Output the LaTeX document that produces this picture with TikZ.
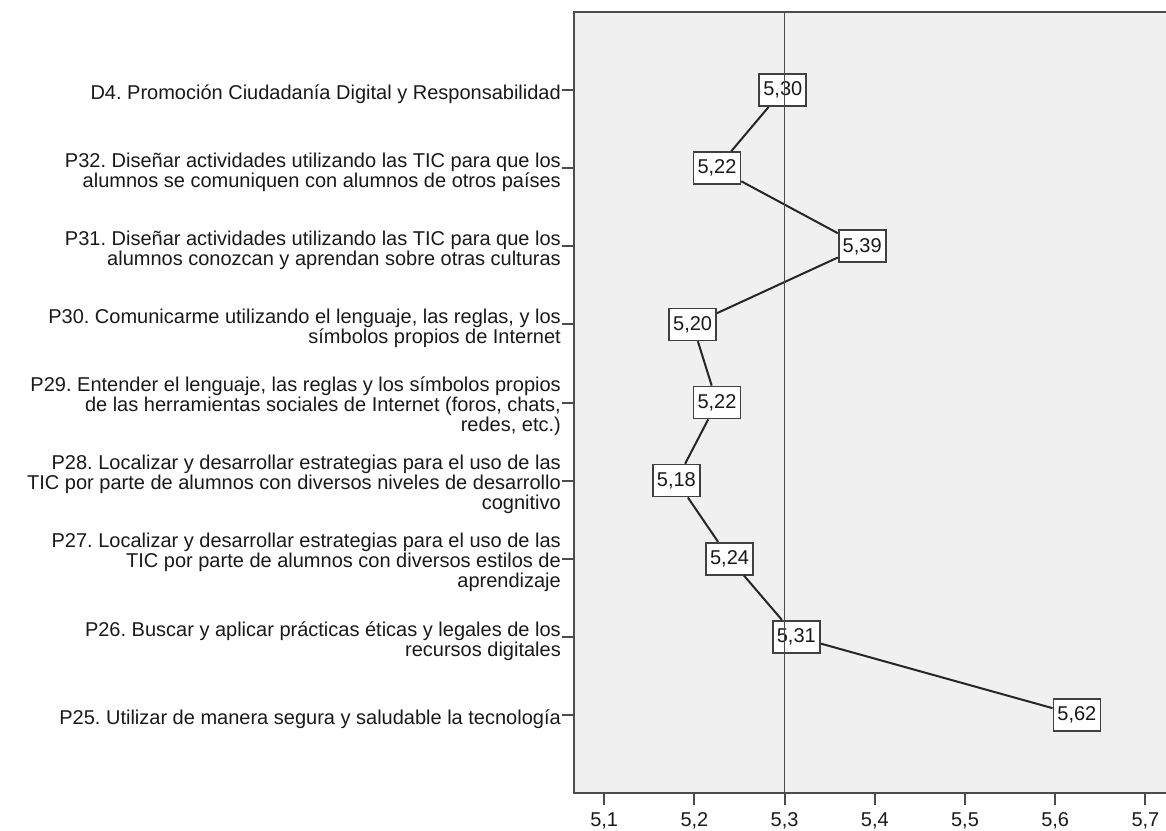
\documentclass[tikz,border=0pt]{standalone}
\usepackage{fontspec}
\setmainfont{Liberation Sans}
\frenchspacing

\begin{document}
\begin{tikzpicture}[x=1pt, y=-1pt, line join=miter,
  font=\fontsize{20}{20}\selectfont,
  valbox/.style={draw=black!75, line width=1.7pt, fill=white, text=black!90,
    minimum width=47pt, minimum height=32pt, inner sep=0pt},
  itemlabel/.style={anchor=east, align=right, text=black!90, inner sep=0pt},
  axisline/.style={line width=2pt, black!70}]

% ----------------------------
% PARAMETERS
% ----------------------------
\def\xL{574}
\def\xR{1166}
\def\yT{12}
\def\yB{793}
\def\xRef{784.6}
\def\unit{902}
\def\rowH{78.1}

\useasboundingbox (0,0) rectangle (1166,830);

% ----------------------------
% PLOT AREA
% ----------------------------
\fill[black!6] (\xL,\yT) rectangle (\xR,\yB);

% ----------------------------
% MEAN BOXES
% ----------------------------
\foreach \i/\val/\txt in {1/5.298/{5,30}, 2/5.225/{5,22}, 3/5.386/{5,39},
    4/5.198/{5,20}, 5/5.225/{5,22}, 6/5.180/{5,18}, 7/5.239/{5,24},
    8/5.313/{5,31}, 9/5.624/{5,62}} {
  \node[valbox] (v\i) at ({\xRef+\unit*(\val-5.3)}, {\yT+\rowH*\i}) {\txt};
}

% Profile line
\foreach \i [count=\j from 2] in {1,...,8} {
  \draw[line width=2pt, black!85] (v\i) -- (v\j);
}

% Reference line at 5,3
\draw[line width=1.7pt, black!70] (\xRef,\yT) -- (\xRef,\yB);

% ----------------------------
% AXES
% ----------------------------
\draw[axisline] (\xR,\yT) -- (\xL,\yT) -- (\xL,\yB) -- (\xR,\yB);

\foreach \t in {1,...,7} {
  \pgfmathsetmacro{\xt}{\xRef+90.2*(\t-3)}
  \draw[axisline] (\xt,\yB) -- (\xt,\yB+12);
  \node[anchor=base, text=black!90, inner sep=0pt] (t\t) at (\xt,826.5) {5,\t};
}

% ----------------------------
% ITEM LABELS
% ----------------------------
\foreach \i/\txt in {
  1/{D4. Promoción Ciudadanía Digital y Responsabilidad},
  2/{P32. Diseñar actividades utilizando las TIC para que los\\alumnos se comuniquen con alumnos de otros países},
  3/{P31. Diseñar actividades utilizando las TIC para que los\\alumnos conozcan y aprendan sobre otras culturas},
  4/{P30. Comunicarme utilizando el lenguaje, las reglas, y los\\símbolos propios de Internet},
  5/{P29. Entender el lenguaje, las reglas y los símbolos propios\\de las herramientas sociales de Internet (foros, chats,\\redes, etc.)},
  6/{P28. Localizar y desarrollar estrategias para el uso de las\\TIC por parte de alumnos con diversos niveles de desarrollo\\cognitivo},
  7/{P27. Localizar y desarrollar estrategias para el uso de las\\TIC por parte de alumnos con diversos estilos de\\aprendizaje},
  8/{P26. Buscar y aplicar prácticas éticas y legales de los\\recursos digitales},
  9/{P25. Utilizar de manera segura y saludable la tecnología}} {
  \draw[axisline] (\xL-12,{\yT+\rowH*\i}) -- (\xL,{\yT+\rowH*\i});
  \node[itemlabel] (l\i) at (561,{\yT+\rowH*\i+4}) {\txt};
}

\end{tikzpicture}
\end{document}
